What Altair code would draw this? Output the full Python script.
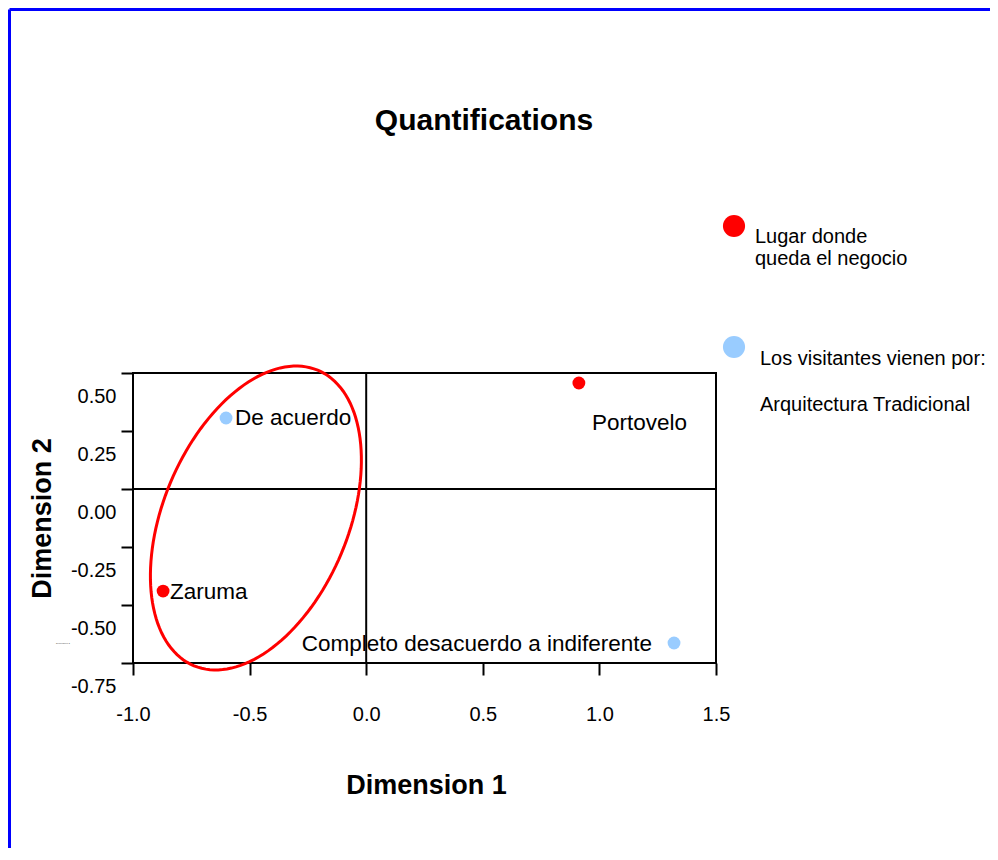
import altair as alt
import numpy as np
import pandas as pd

# ---- data ----
categories = ["Portovelo", "Zaruma", "De acuerdo", "Completo desacuerdo a indiferente"]
dimension_1 = [0.912, -0.871, -0.601, 1.320]
dimension_2 = [0.457, -0.440, 0.306, -0.664]
variables = [
    "Lugar donde queda el negocio",
    "Lugar donde queda el negocio",
    "Los visitantes vienen por: Arquitectura Tradicional",
    "Los visitantes vienen por: Arquitectura Tradicional",
]
legend_variables = [
    "Lugar donde queda el negocio",
    "Los visitantes vienen por: Arquitectura Tradicional",
]
legend_colors = ["#ff0000", "#99ccff"]
x_ticks = [-1.0, -0.5, 0.0, 0.5, 1.0, 1.5]
y_ticks = [-0.75, -0.5, -0.25, 0.0, 0.25, 0.5]

# annotation ellipse (centre, semi-axes, tilt from vertical)
ellipse_center = [-0.473, -0.125]
ellipse_axes = [0.69, 0.397]
ellipse_tilt_deg = 22.6

FONT = "Liberation Sans"

df = pd.DataFrame({"category": categories, "dim1": dimension_1,
                   "dim2": dimension_2, "variable": variables})

th = np.deg2rad(ellipse_tilt_deg)
t = np.linspace(0, 2 * np.pi, 145)
ux, uy = np.sin(th), np.cos(th)
vx, vy = np.cos(th), -np.sin(th)
ell = pd.DataFrame({
    "dim1": ellipse_center[0] + ellipse_axes[0] * np.cos(t) * ux + ellipse_axes[1] * np.sin(t) * vx,
    "dim2": ellipse_center[1] + ellipse_axes[0] * np.cos(t) * uy + ellipse_axes[1] * np.sin(t) * vy,
    "order": np.arange(len(t)),
})

X = alt.X("dim1:Q", scale=alt.Scale(domain=[x_ticks[0], x_ticks[-1]], nice=False, zero=False),
          axis=alt.Axis(values=x_ticks, title="Dimension 1", labelFlush=False,
                        labelExpr="(datum.value < 0 ? '-' : '') + format(abs(datum.value), '.1f')",
                        labelPadding=29, titleX=293, titleY=122, titleAlign="center",
                        titleBaseline="middle", titleFontSize=27))
Y = alt.Y("dim2:Q", scale=alt.Scale(domain=[y_ticks[0], y_ticks[-1]], nice=False, zero=False),
          axis=alt.Axis(values=y_ticks, title="Dimension 2", labelFlush=False,
                        labelExpr="(datum.value < 0 ? '-' : '') + format(abs(datum.value), '.2f')",
                        labelPadding=5, labelOffset=23, titleX=-91, titleY=145, titleAngle=270,
                        titleAlign="center", titleBaseline="middle", titleFontSize=27))

zero_v = alt.Chart(pd.DataFrame({"dim1": [0.0]})).mark_rule(color="black", strokeWidth=2).encode(x=X)
zero_h = alt.Chart(pd.DataFrame({"dim2": [0.0]})).mark_rule(color="black", strokeWidth=2).encode(y=Y)

ellipse = alt.Chart(ell).mark_line(color="#ff0000", strokeWidth=3, clip=False).encode(
    x=X, y=Y, order="order:Q")

points = alt.Chart(df).mark_circle(size=165, opacity=1).encode(
    x=X, y=Y,
    color=alt.Color("variable:N", scale=alt.Scale(domain=legend_variables, range=legend_colors),
                    legend=None))

def label(cat, **kw):
    return alt.Chart(df).transform_filter(alt.datum.category == cat).mark_text(
        font=FONT, fontSize=22.5, color="black", baseline="middle", **kw
    ).encode(x=X, y=Y, text="category:N")

lab_port = label("Portovelo", align="left", dx=13, dy=40)
lab_zar = label("Zaruma", align="left", dx=7, dy=1)
lab_de = label("De acuerdo", align="left", dx=9, dy=0)
lab_comp = label("Completo desacuerdo a indiferente", align="right", dx=-22, dy=1)

one = pd.DataFrame({"a": [0]})

def fixed_text(txt, x, y, size, weight="normal", align="left", color="black"):
    return alt.Chart(one).mark_text(text=txt, font=FONT, fontSize=size, fontWeight=weight,
                                    align=align, baseline="middle", color=color).encode(
        x=alt.value(x), y=alt.value(y))

title = fixed_text("Quantifications", 351, -252, 30, weight="bold", align="center")
tiny = fixed_text("Dimension 2", -70, 270, 2.5, align="center", color="#555555")

leg_red = alt.Chart(one).mark_circle(size=490, opacity=1, color=legend_colors[0]).encode(
    x=alt.value(601), y=alt.value(-147))
leg_blue = alt.Chart(one).mark_circle(size=490, opacity=1, color=legend_colors[1]).encode(
    x=alt.value(601), y=alt.value(-26))
leg_t1a = fixed_text("Lugar donde", 622, -136, 20)
leg_t1b = fixed_text("queda el negocio", 622, -114, 20)
leg_t2 = fixed_text("Los visitantes vienen por:", 627, -14, 20)
leg_t3 = fixed_text("Arquitectura Tradicional", 627, 32, 20)

border_v = alt.Chart(one).mark_rule(color="#0000ff", strokeWidth=3).encode(
    x=alt.value(-123.5), y=alt.value(-363.5), y2=alt.value(480))
border_h = alt.Chart(one).mark_rule(color="#0000ff", strokeWidth=3).encode(
    x=alt.value(-123.5), x2=alt.value(860), y=alt.value(-363.5))

chart = alt.layer(
    zero_v, zero_h, ellipse, points, lab_port, lab_zar, lab_de, lab_comp,
    title, tiny, leg_red, leg_blue, leg_t1a, leg_t1b, leg_t2, leg_t3, border_v, border_h,
).properties(
    width=583, height=290,
    autosize=alt.AutoSizeParams(type="none"),
    padding={"left": 125, "top": 365, "right": 274, "bottom": 185},
).configure(
    font=FONT,
).configure_view(
    stroke="black", strokeWidth=2,
).configure_axis(
    grid=False, domain=False, tickColor="black", tickWidth=2, tickSize=12,
    labelFont=FONT, labelFontSize=20, labelColor="black",
    titleFont=FONT, titleFontWeight="bold", titleColor="black",
)

chart.save("out.html", embed_options={"renderer": "svg", "actions": False})
